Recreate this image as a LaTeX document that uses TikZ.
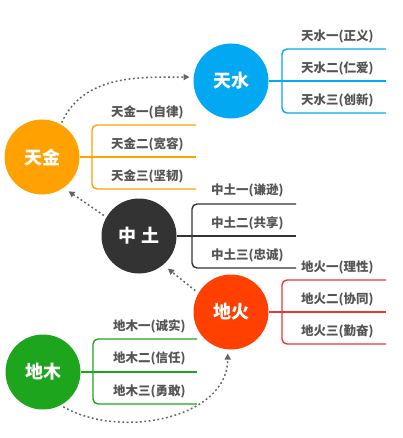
\documentclass[tikz,border=0pt]{standalone}
\usepackage{fontspec}
\setmainfont{Noto Sans CJK SC}
\usetikzlibrary{arrows.meta, positioning}

\definecolor{shuiblue}{RGB}{3,168,243}
\definecolor{jinorange}{RGB}{255,161,0}
\definecolor{tudark}{RGB}{51,51,51}
\definecolor{huored}{RGB}{255,64,0}
\definecolor{huoline}{RGB}{229,57,53}
\definecolor{mugreen}{RGB}{30,165,30}
\definecolor{leafgray}{RGB}{85,85,85}
\definecolor{flowgray}{RGB}{100,100,100}

\begin{document}
\begin{tikzpicture}[x=1pt, y=-1pt,
    element/.style={circle, minimum size=75pt, inner sep=0pt, text=white, font=\fontsize{18}{18}\selectfont\bfseries},
    leaf/.style={anchor=west, inner sep=0pt, text=leafgray, font=\fontsize{12.5}{12.5}\selectfont\bfseries},
    branch/.style={line width=1.4pt, rounded corners=5pt},
    flow/.style={flowgray, line width=1.5pt, dash pattern=on 1.8pt off 2.6pt, -{Triangle[length=6pt, width=6pt]}},
]
    \useasboundingbox (0,0) rectangle (403,438);

    % 天水
    \node[element, fill=shuiblue] (tianshui) at (231,81) {天水};
    \coordinate (shuiA) at (386,49);
    \coordinate (shuiB) at (386,81);
    \coordinate (shuiC) at (386,113);
    \draw[branch, shuiblue] (shuiA) -- (282,49) -- (282,113) -- (shuiC);
    \draw[branch, shuiblue] (tianshui.east) -- (shuiB);
    \node[leaf] (shui1) at (301,36) {天水一(正义)};
    \node[leaf] (shui2) at (301,68) {天水二(仁爱)};
    \node[leaf] (shui3) at (301,100) {天水三(创新)};

    % 天金
    \node[element, fill=jinorange] (tianjin) at (42,157) {天金};
    \coordinate (jinA) at (196,125);
    \coordinate (jinB) at (196,157);
    \coordinate (jinC) at (196,189);
    \draw[branch, jinorange] (jinA) -- (92,125) -- (92,189) -- (jinC);
    \draw[branch, jinorange] (tianjin.east) -- (jinB);
    \node[leaf] (jin1) at (111,112) {天金一(自律)};
    \node[leaf] (jin2) at (111,144) {天金二(宽容)};
    \node[leaf] (jin3) at (111,176) {天金三(坚韧)};

    % 中土
    \node[element, fill=tudark] (zhongtu) at (139,236) {中 土};
    \coordinate (tuA) at (296,204);
    \coordinate (tuB) at (296,236);
    \coordinate (tuC) at (296,268);
    \draw[branch, tudark] (tuA) -- (192,204) -- (192,268) -- (tuC);
    \draw[branch, tudark] (zhongtu.east) -- (tuB);
    \node[leaf] (tu1) at (211,190) {中土一(谦逊)};
    \node[leaf] (tu2) at (211,223) {中土二(共享)};
    \node[leaf] (tu3) at (211,255) {中土三(忠诚)};

    % 地火
    \node[element, fill=huored] (dihuo) at (231,312) {地火};
    \coordinate (huoA) at (386,280);
    \coordinate (huoB) at (386,312);
    \coordinate (huoC) at (386,344);
    \draw[branch, huoline] (huoA) -- (282,280) -- (282,344) -- (huoC);
    \draw[branch, huoline] (dihuo.east) -- (huoB);
    \node[leaf] (huo1) at (301,267) {地火一(理性)};
    \node[leaf] (huo2) at (301,299) {地火二(协同)};
    \node[leaf] (huo3) at (301,331) {地火三(勤奋)};

    % 地木
    \node[element, fill=mugreen] (dimu) at (43,372) {地木};
    \coordinate (muA) at (197,339);
    \coordinate (muB) at (197,372);
    \coordinate (muC) at (197,404);
    \draw[branch, mugreen] (muA) -- (93,339) -- (93,404) -- (muC);
    \draw[branch, mugreen] (dimu.east) -- (muB);
    \node[leaf] (mu1) at (113,326) {地木一(诚实)};
    \node[leaf] (mu2) at (113,358) {地木二(信任)};
    \node[leaf] (mu3) at (113,391) {地木三(勇敢)};

    % 相生
    \draw[flow, shorten <=3pt, shorten >=4pt] (dimu.-62) to[out=-30, in=-90] (dihuo.-95);
    \draw[flow, shorten <=4pt, shorten >=6pt] (dihuo.150) -- (zhongtu.-50);
    \draw[flow, shorten <=3pt, shorten >=6pt] (zhongtu.150) -- (tianjin.-55);
    \draw[flow, shorten <=2pt, shorten >=4pt] (tianjin.60) to[out=65, in=180] (tianshui.174);
\end{tikzpicture}
\end{document}
